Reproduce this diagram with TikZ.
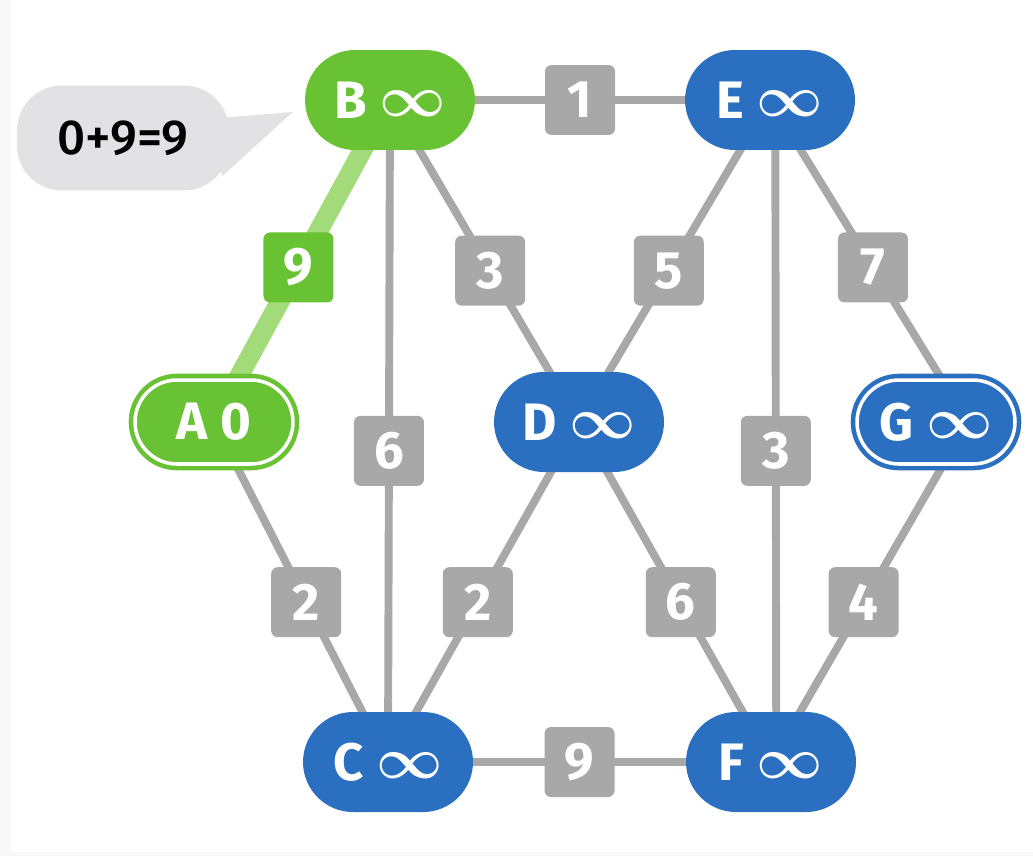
\documentclass[tikz,border=0pt]{standalone}
\usepackage{fontspec}
\setmainfont{Fira Sans}
\newfontfamily\notefont{Fira Sans Medium}
\usetikzlibrary{calc}

\definecolor{nodeblue}{RGB}{43,111,192}
\definecolor{nodegreen}{RGB}{104,194,52}
\definecolor{pathgreen}{RGB}{163,219,122}
\definecolor{edgegray}{RGB}{168,168,168}
\definecolor{notegray}{RGB}{226,226,229}
\definecolor{stripgray}{RGB}{248,248,250}

\pgfdeclarelayer{background}
\pgfsetlayers{background,main}

\newcommand{\infsym}{\raisebox{1pt}{\scalebox{1.32}{\boldmath$\infty$}}}

\tikzset{
  vtx/.style={rectangle, rounded corners=1cm, minimum width=3.4cm, minimum height=2cm,
    inner sep=0pt, fill=nodeblue, text=white, font=\bfseries\fontsize{30}{32}\selectfont},
  done/.style={vtx, fill=nodegreen},
  src/.style={minimum width=3.16cm, minimum height=1.68cm, rounded corners=0.84cm,
    draw=#1, double=white, double distance=2pt, line width=2.6pt},
  wt/.style={rectangle, rounded corners=0.13cm, minimum size=1.4cm, inner sep=0pt,
    fill=edgegray, text=white, font=\bfseries\fontsize{30}{32}\selectfont},
  edge/.style={draw=edgegray, line width=4.5pt},
  note/.style={rectangle, rounded corners=0.9cm, minimum width=4.24cm, minimum height=2.1cm,
    fill=notegray, text=black, font=\notefont\fontsize{28}{30}\selectfont},
}

\begin{document}
\begin{tikzpicture}[x=0.02cm, y=-0.02cm]

  \useasboundingbox (0,0) rectangle (1033,856);

  % vertices
  \node[done]               (B) at (390,100) {B \infsym};
  \node[vtx]                (E) at (770,100) {E \infsym};
  \node[done, src=nodegreen] (A) at (214,422) {A 0};
  \node[vtx]                (D) at (579,422) {D \infsym};
  \node[vtx, src=nodeblue]  (G) at (936,422) {G \infsym};
  \node[vtx]                (C) at (388,762) {C \infsym};
  \node[vtx]                (F) at (771,762) {F \infsym};

  \coordinate (g) at ($(G)+(32,0)$);

  % callout
  \node[note] (sum) at (123,138) {0+9=9};
  \fill[notegray] ($(sum.east)+(-22,-19)$) -- ($(B.west)+(-12,12)$)
    -- ($(sum.east)+(-7,38)$) -- cycle;

  \begin{pgfonlayer}{background}
    \fill[white] (0,0) rectangle (1033,856);
    \fill[stripgray] (0,0) rectangle (11,856);
    \fill[stripgray] (0,852) rectangle (1033,856);

    \path[draw=pathgreen, line width=11pt] (A.center) -- node[wt, fill=nodegreen, pos=0.48] {9} (B.center);

    \path[edge] (B.center) -- node[wt] {1} (E.center);
    \path[edge] (B.center) -- node[wt, pos=0.53] {6} (C.center);
    \path[edge] (B.center) -- node[wt, pos=0.53] {3} (D.center);
    \path[edge] (E.center) -- node[wt, pos=0.53] {5} (D.center);
    \path[edge] (E.center) -- node[wt, pos=0.52] {7} (g);
    \path[edge] ([xshift=3]E.center) -- node[wt, pos=0.53] {3} ([xshift=3]F.center);
    \path[edge] (A.center) -- node[wt, pos=0.53] {2} (C.center);
    \path[edge] (D.center) -- node[wt, pos=0.53] {2} (C.center);
    \path[edge] (D.center) -- node[wt, pos=0.53] {6} (F.center);
    \path[edge] (g) -- node[wt, pos=0.53] {4} (F.center);
    \path[edge] (C.center) -- node[wt] {9} (F.center);
  \end{pgfonlayer}

\end{tikzpicture}
\end{document}
